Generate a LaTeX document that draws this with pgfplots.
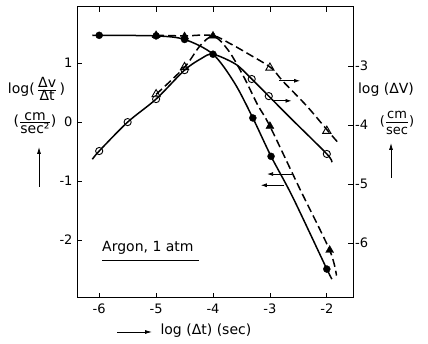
\documentclass[border=0pt]{standalone}
\usepackage{pgfplots}
\pgfplotsset{compat=1.18}
\usepackage{fontspec}
\setmainfont{DejaVu Sans}
\usetikzlibrary{arrows.meta}

\begin{document}
\fontsize{13}{15}\selectfont
\begin{tikzpicture}[x=1pt,y=1pt,font=\fontsize{13}{15}\selectfont]
\useasboundingbox (0,0) rectangle (428,344);
\pgfplotsset{
  myaxis/.style={
    at={(77pt,46pt)}, anchor=south west,
    width=276pt, height=291pt, scale only axis,
    xmin=-6.39, xmax=-1.54,
    tick align=inside, major tick length=5pt,
    /pgf/number format/assume math mode=true,
    axis line style={line width=1pt},
    tick style={line width=0.8pt, black},
    clip=false,
  },
}
% left axis: log(dv/dt)
\begin{axis}[myaxis,
  ymin=-2.98, ymax=1.95,
  xtick={-6,-5,-4,-3,-2}, ytick={-2,-1,0,1},
  xtick pos=both, ytick pos=left,
  xticklabel style={yshift=-1pt},
]
% filled circles, solid
\addplot[black, line width=1.5pt, smooth, tension=0.5] coordinates {
 (-6.12,1.47) (-6,1.47) (-5,1.46) (-4.5,1.40) (-4,1.15) (-3.62,0.66)
 (-3.3,0.07) (-2.98,-0.58) (-2.6,-1.27) (-2,-2.49) (-1.91,-2.66)};
\addplot[only marks, mark=*, mark size=3.5pt, black] coordinates {
 (-6,1.47) (-5,1.46) (-4.5,1.40) (-4,1.15) (-3.3,0.07) (-2.98,-0.58) (-2,-2.49)};
% filled triangles, dashed
\addplot[black, line width=1.5pt, dash pattern=on 8pt off 4pt, smooth, tension=0.5] coordinates {
 (-5,1.47) (-4.5,1.46) (-4,1.46) (-3.72,1.2) (-3.45,0.75) (-3.22,0.3) (-3.0,-0.07)
 (-2.47,-1.14) (-1.95,-2.17) (-1.83,-2.6)};
\addplot[only marks, mark=triangle*, mark size=4.6pt, black] coordinates {
 (-5,1.47) (-4.5,1.45) (-4,1.46) (-3.0,-0.07) (-1.95,-2.17)};
% arrows pointing to the left axis
\draw[line width=0.8pt, -{Latex[length=6pt,width=4pt]}] (axis cs:-2.61,-0.88) -- (axis cs:-3.05,-0.88);
\draw[line width=0.8pt, -{Latex[length=6pt,width=4pt]}] (axis cs:-2.75,-1.07) -- (axis cs:-3.16,-1.07);
% arrows pointing to the right axis
\draw[line width=0.8pt, -{Latex[length=6pt,width=4pt]}] (axis cs:-2.84,0.70) -- (axis cs:-2.47,0.70);
\draw[line width=0.8pt, -{Latex[length=6pt,width=4pt]}] (axis cs:-2.97,0.36) -- (axis cs:-2.62,0.36);
\end{axis}
% right axis: log(dV)
\begin{axis}[myaxis,
  ymin=-6.93, ymax=-2.00,
  xtick=\empty, ytick={-6,-5,-4,-3},
  ytick pos=right, yticklabel pos=right,
  yticklabel style={inner sep=1pt, xshift=1pt},
]
% open circles, solid
\addplot[black, line width=1.5pt, smooth, tension=0.5] coordinates {
 (-6.12,-4.58) (-6,-4.44) (-5.5,-3.95) (-5,-3.56) (-4.5,-3.07) (-4.2,-2.87) (-4,-2.80)
 (-3.6,-2.97) (-3.32,-3.22) (-3.02,-3.51) (-2.65,-3.87) (-2,-4.49) (-1.91,-4.63)};
\addplot[only marks, mark=o, mark size=3.6pt, black, mark options={fill=white, line width=0.9pt}] coordinates {
 (-6,-4.44) (-5.5,-3.95) (-5,-3.56) (-4.5,-3.07) (-3.32,-3.22) (-3.02,-3.51) (-2,-4.49)};
% open triangles, dashed
\addplot[black, line width=1.5pt, dash pattern=on 8pt off 4pt, smooth, tension=0.5] coordinates {
 (-5,-3.48) (-4.5,-3.02) (-4.23,-2.66) (-4,-2.49) (-3.7,-2.62) (-3.37,-2.80) (-2.98,-3.03)
 (-2.77,-3.26) (-2.35,-3.68) (-1.98,-4.10) (-1.81,-4.29)};
\addplot[only marks, mark=triangle, mark size=4.8pt, black, mark options={fill=white, line width=0.9pt, solid}] coordinates {
 (-5,-3.48) (-4.5,-3.02) (-3,-3.03) (-2,-4.10)};
\end{axis}
\begin{scope}[font=\fontsize{14}{16}\selectfont]
% left label
\node[inner sep=1pt] at (36.5,255) {log(\,$\frac{\mbox{Δv}}{\mbox{Δt}}$\,)};
\node[inner sep=1pt] at (35,221) {($\frac{\mbox{cm}}{\mbox{sec²}}$)};
\draw[line width=0.8pt, -{Latex[length=7pt,width=4pt]}] (39,157) -- (39,197);
% right label
\node[inner sep=1pt] at (386,254) {log (ΔV)};
\node[inner sep=0pt, font=\fontsize{13}{15}\selectfont] at (397,221)
  {($\frac{\mbox{cm\rule[-3pt]{0pt}{3pt}}}{\mbox{\rule{0pt}{12pt}sec}}$)};
\draw[line width=0.8pt, -{Latex[length=7pt,width=4pt]}] (391,166) -- (391,201);
% bottom label
\draw[line width=0.8pt, -{Latex[length=7pt,width=4pt]}] (117,12) -- (152,12);
\node[anchor=west] at (156,13) {log (Δt) (sec)};
% Argon
\node[anchor=base west, inner sep=0pt] at (102,92) {Argon, 1 atm};
\draw[line width=0.9pt] (102,84) -- (199,84);
\end{scope}
\end{tikzpicture}
\end{document}
